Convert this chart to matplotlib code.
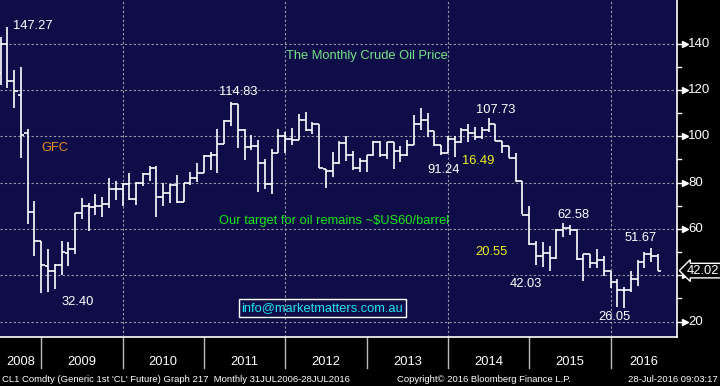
import matplotlib
matplotlib.use('Agg')
import matplotlib.pyplot as plt
import matplotlib.transforms as mtransforms
import numpy as np
import pandas as pd

plt.rcParams['font.family'] = ['Liberation Sans', 'DejaVu Sans']

# monthly bars Jun 2008 - Jul 2016 (open, high, low, close)
months = pd.date_range('2008-06-01', '2016-07-01', freq='MS')
opens = [127.5, 140.0, 124.0, 118.0, 101.4, 67.5, 54.7,
         44.0, 41.8, 44.6, 49.5, 51.4, 66.7, 69.9, 69.4, 70.0, 70.6, 77.1, 77.3,
         79.4, 73.0, 80.0, 83.6, 86.4, 74.0, 75.7, 79.0, 71.8, 80.0, 81.8, 84.3,
         91.4, 92.0, 96.7, 106.4, 114.0, 102.9, 95.3, 95.7, 88.6, 79.3, 92.6, 100.0,
         98.6, 98.3, 106.9, 102.9, 105.2, 85.7, 85.0, 88.3, 97.0, 91.8, 86.4, 89.3,
         91.7, 97.6, 91.7, 97.4, 93.6, 92.0, 96.4, 105.3, 107.1, 102.1, 96.4, 92.9,
         98.6, 97.4, 102.6, 101.4, 99.7, 102.6, 105.4, 97.9, 95.7, 90.7, 80.5, 66.2,
         53.3, 48.2, 49.8, 47.6, 59.6, 60.3, 59.5, 47.1, 49.2, 45.1, 46.6, 41.65,
         37.0, 33.6, 33.75, 38.3, 45.9, 49.1, 48.3]
highs = [143.0, 147.27, 128.5, 130.0, 103.0, 72.0, 55.0,
         51.4, 45.0, 55.0, 54.5, 66.7, 73.5, 71.0, 75.0, 74.0, 82.1, 80.5, 80.0,
         84.0, 80.3, 84.0, 87.0, 87.0, 79.7, 79.5, 83.1, 80.0, 84.5, 88.6, 92.1,
         93.1, 103.3, 106.9, 114.83, 114.0, 103.0, 100.5, 98.2, 90.3, 94.6, 103.2, 101.7,
         103.6, 109.7, 110.5, 106.0, 105.2, 85.7, 93.1, 97.9, 100.0, 93.6, 90.5, 91.8,
         97.9, 97.9, 97.5, 97.4, 96.0, 98.5, 109.3, 112.2, 110.0, 102.1, 96.4, 100.0,
         100.0, 103.6, 105.2, 104.0, 104.0, 107.73, 105.4, 97.9, 95.7, 92.9, 80.5, 70.0,
         54.9, 54.2, 52.5, 59.9, 62.58, 61.9, 59.9, 49.3, 49.3, 51.4, 48.4, 42.0,
         38.4, 34.8, 41.9, 46.8, 50.2, 51.67, 49.0]
lows = [122.0, 121.0, 112.0, 90.5, 62.0, 48.5, 32.40,
        33.0, 33.9, 40.0, 44.2, 49.0, 64.5, 59.0, 66.0, 65.0, 69.0, 72.5, 69.7,
        72.5, 70.3, 78.5, 80.7, 65.0, 70.0, 71.0, 71.0, 71.7, 79.0, 80.3, 84.0,
        85.4, 84.3, 96.7, 104.5, 95.0, 89.7, 94.0, 76.0, 77.1, 75.0, 92.6, 92.9,
        96.4, 98.3, 102.1, 101.0, 86.4, 77.5, 82.6, 87.9, 89.3, 85.4, 84.5, 84.7,
        91.5, 91.0, 90.3, 86.0, 89.0, 91.5, 96.4, 102.6, 99.5, 96.0, 92.0, 92.9,
        91.24, 97.2, 97.5, 98.5, 99.0, 101.7, 97.9, 92.9, 90.7, 80.3, 66.4, 53.2,
        44.5, 43.6, 42.03, 47.0, 56.5, 57.5, 46.7, 37.75, 43.2, 43.1, 39.5, 34.5,
        26.2, 26.05, 32.8, 35.2, 43.0, 45.8, 41.7]
closes = [140.0, 124.0, 119.5, 100.7, 67.5, 54.7, 44.6,
          41.8, 44.6, 50.0, 51.4, 66.7, 69.9, 69.4, 70.0, 70.6, 77.1, 77.3, 79.4,
          72.9, 80.0, 83.6, 86.2, 74.0, 75.7, 79.0, 71.8, 80.0, 81.8, 84.3, 91.4,
          92.0, 96.7, 106.4, 114.0, 102.9, 95.3, 95.7, 88.6, 79.3, 92.6, 100.0, 98.6,
          98.3, 106.9, 102.9, 105.2, 86.4, 85.0, 88.3, 97.0, 91.8, 86.4, 89.3, 91.7,
          97.6, 91.7, 97.4, 93.6, 92.0, 96.4, 105.3, 107.1, 102.1, 96.4, 92.9, 98.6,
          97.4, 102.6, 101.4, 99.7, 102.6, 105.4, 97.9, 95.7, 90.7, 80.5, 66.2, 53.3,
          48.2, 49.8, 47.6, 59.6, 60.3, 59.5, 47.1, 49.2, 45.1, 46.6, 41.65, 37.0,
          33.6, 33.75, 38.3, 45.9, 49.1, 48.3, 42.02]

years = [2008, 2009, 2010, 2011, 2012, 2013, 2014, 2015, 2016]
yticks = [20, 40, 60, 80, 100, 120, 140]
hidden_ticklabels = [40]   # covered by the last price flag
last_price = '42.02'

# text labels: (text, x px, y px, colour)
notes = [('147.27', 33, 26, 'white'), ('114.83', 238, 92, 'white'),
         ('91.24', 444, 170, 'white'), ('16.49', 478, 161, '#f0f020'),
         ('107.73', 496, 110, 'white'), ('62.58', 573, 215, 'white'),
         ('51.67', 641, 238, 'white'), ('20.55', 491, 252, '#f0f020'),
         ('42.03', 526, 284, 'white'), ('26.05', 614, 317, 'white'),
         ('32.40', 78, 302, 'white'), ('GFC', 55, 148, '#f08a1c'),
         ('The Monthly Crude Oil Price', 367, 56, '#72e68a'),
         ('Our target for oil remains ~$US60/barrel', 334, 221, '#18e818')]

W, H = 720, 386
fs = 9.3
fig = plt.figure(figsize=(7.2, 3.86), dpi=100, facecolor='black')
ax_w, ax_h = 677, 336.7
ax = fig.add_axes([0, 1 - ax_h / H, ax_w / W, ax_h / H])
ax.set_facecolor('#0f0d48')

x = (months.year - 2008) * 12 + months.month
x = np.asarray(x, dtype=float)
lw = 1.2
ax.vlines(x, lows, highs, color='white', lw=lw)
ax.hlines(opens, x - 0.5, x, color='white', lw=lw)
ax.hlines(closes, x, x + 0.5, color='white', lw=lw)

ax.set_xlim(5.91, 105.8)
ax.set_ylim(13.5, 158.8)

for v in yticks:
    ax.axhline(v, color='#9a9aa6', lw=0.8, ls=(0, (2, 2)), zorder=0)
for yr in [2010, 2012, 2014, 2016]:
    ax.axvline((yr - 2008) * 12, color='#9a9aa6', lw=0.8, ls=(0, (2, 2)), zorder=0)

for s in ['left', 'top']:
    ax.spines[s].set_visible(False)
for s in ['right', 'bottom']:
    ax.spines[s].set_color('white')
    ax.spines[s].set_linewidth(1.2)
ax.set_xticks([])
ax.set_yticks([])

# right axis ticks with arrow heads
ty = mtransforms.blended_transform_factory(ax.transAxes, ax.transData)
for v in yticks:
    ax.plot([1.0, 1.0 + 8 / ax_w], [v, v], color='white', lw=1, transform=ty, clip_on=False)
    ax.plot([1.0 + 8 / ax_w], [v], marker='>', ms=4.5, color='white', transform=ty, clip_on=False)
    if v not in hidden_ticklabels:
        ax.text(1.0 + 11 / ax_w, v, str(v), color='white', fontsize=9.5, va='center',
                ha='left', transform=ty, clip_on=False)
for v in range(30, 140, 20):
    ax.plot([1.0, 1.0 + 4 / ax_w], [v, v], color='white', lw=1, transform=ty, clip_on=False)

ax.text(1.0 + 10 / ax_w, float(last_price), last_price, color='white', fontsize=9.3,
        va='center', ha='left', transform=ty, clip_on=False, zorder=10,
        bbox=dict(boxstyle='larrow,pad=0.1', fc='black', ec='white', lw=1))

# year labels and separators below the axis
tx = mtransforms.blended_transform_factory(ax.transData, fig.transFigure)
for yr in years[1:]:
    xp = (yr - 2008) * 12
    ax.plot([xp, xp], [1 - ax_h / H, 1 - 368 / H], color='#bbbbbb', lw=1,
            transform=tx, clip_on=False)
xl, xr = ax.get_xlim()
for yr in years:
    a = max((yr - 2008) * 12, xl)
    b = min((yr - 2007) * 12, xr)
    ax.text((a + b) / 2, 1 - 362 / H, str(yr), color='white', fontsize=fs,
            ha='center', va='center', transform=tx)

for s, px, py, c in notes:
    ax.text(px / ax_w, 1 - py / ax_h, s, color=c, fontsize=fs, ha='center', va='center',
            transform=ax.transAxes)

ax.text(322.5 / ax_w, 1 - 308 / ax_h, 'info@marketmatters.com.au', color='#22e4f4',
        fontsize=fs, ha='center', va='center', transform=ax.transAxes,
        bbox=dict(boxstyle='square,pad=0.2', fc='none', ec='white', lw=1))

fy = 1 - 379 / H
fig.text(2 / W, fy, "CL1 Comdty (Generic 1st 'CL' Future) Graph 217  Monthly 31JUL2006-28JUL2016",
         color='white', fontsize=6.8, ha='left', va='center')
fig.text(484 / W, fy, 'Copyright\u00a9 2016 Bloomberg Finance L.P.', color='white',
         fontsize=6.8, ha='center', va='center')
fig.text(718 / W, fy, '28-Jul-2016 09:03:17', color='white', fontsize=6.8,
         ha='right', va='center')

fig.savefig('out.png', dpi=100, facecolor='black')
